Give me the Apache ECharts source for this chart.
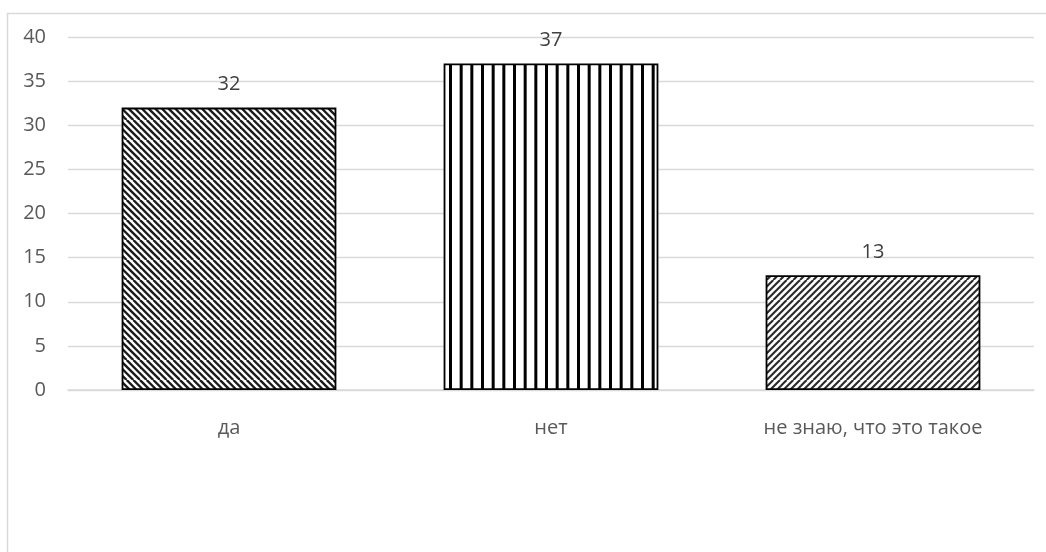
<!DOCTYPE html>
<html>
<head>
<meta charset="utf-8">
<script src="https://cdn.jsdelivr.net/npm/echarts@6/dist/echarts.min.js"></script>
<style>
  html, body { margin: 0; padding: 0; background: #fff; }
  #chart { width: 1046px; height: 552px; }
</style>
</head>
<body>
<div id="chart"></div>
<script>
// Answers to the survey question
const categories = ['да', 'нет', 'не знаю, что это такое'];
const values = [32, 37, 13];
const yTicks = { min: 0, max: 40, interval: 5 };

// Hatched fills drawn on small canvas tiles
function diagonalTile(size, count, width, downward, color) {
  const c = document.createElement('canvas');
  c.width = size; c.height = size;
  const g = c.getContext('2d');
  g.fillStyle = '#fff';
  g.fillRect(0, 0, size, size);
  g.strokeStyle = color;
  g.lineWidth = width;
  const step = size / count;
  for (let i = -count - 1; i <= count * 2 + 1; i++) {
    const o = i * step;
    g.beginPath();
    if (downward) {
      g.moveTo(o, 0); g.lineTo(o + size, size);
    } else {
      g.moveTo(o, size); g.lineTo(o + size, 0);
    }
    g.stroke();
  }
  return c;
}
function verticalTile(size, count, width) {
  const c = document.createElement('canvas');
  c.width = size; c.height = size;
  const g = c.getContext('2d');
  g.fillStyle = '#fff';
  g.fillRect(0, 0, size, size);
  g.fillStyle = '#000';
  const step = size / count;
  for (let i = 0; i < count; i++) {
    g.fillRect(i * step + 1, 0, width, size);
  }
  return c;
}

const fills = [
  { image: diagonalTile(20, 3, 2.4, true, '#1a1a1a'), repeat: 'repeat' },
  { image: verticalTile(32, 3, 3), repeat: 'repeat' },
  { image: diagonalTile(20, 3, 2.1, false, '#2a2a2a'), repeat: 'repeat' }
];

const font = '"Open Sans", "Liberation Sans", sans-serif';

const chart = echarts.init(document.getElementById('chart'), null, { renderer: 'canvas' });
chart.setOption({
  animation: false,
  backgroundColor: '#fff',
  graphic: [{
    type: 'rect',
    shape: { x: 7.5, y: 13.5, width: 1200, height: 700 },
    style: { fill: 'none', stroke: '#d9d9d9', lineWidth: 1.5 },
    silent: true,
    z: -1
  }],
  grid: { left: 68, right: 12, top: 37, bottom: 162 },
  xAxis: {
    type: 'category',
    data: categories,
    axisTick: { show: false },
    axisLine: { lineStyle: { color: '#d9d9d9', width: 1.5 } },
    axisLabel: { color: '#595959', fontSize: 20, fontFamily: font, margin: 28 }
  },
  yAxis: {
    type: 'value',
    min: yTicks.min,
    max: yTicks.max,
    interval: yTicks.interval,
    axisLine: { show: false },
    axisTick: { show: false },
    splitLine: { lineStyle: { color: '#d9d9d9', width: 1.3 } },
    axisLabel: { color: '#595959', fontSize: 20, fontFamily: font, margin: 22 }
  },
  series: [{
    type: 'bar',
    barWidth: '66.7%',
    data: values.map((v, i) => ({
      value: v,
      itemStyle: { color: fills[i] }
    })),
    itemStyle: { borderColor: '#000', borderWidth: 1.8 },
    label: {
      show: true,
      position: 'top',
      distance: 13,
      color: '#404040',
      fontSize: 20,
      fontFamily: font
    }
  }]
});
</script>
</body>
</html>
